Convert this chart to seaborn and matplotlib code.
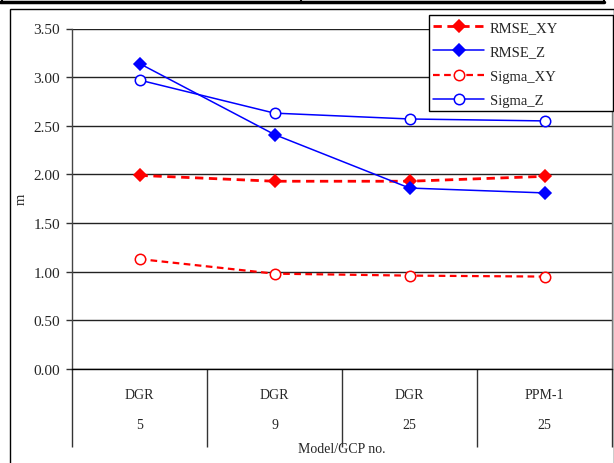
import seaborn as sns
import matplotlib.pyplot as plt
import pandas as pd
import numpy as np
from matplotlib.patches import Rectangle
from matplotlib.lines import Line2D

# values
models = ['DGR', 'DGR', 'DGR', 'PPM-1']
gcp_no = ['5', '9', '25', '25']
rmse_xy = [1.99, 1.93, 1.93, 1.98]
rmse_z = [3.14, 2.41, 1.86, 1.81]
sigma_xy = [1.13, 0.98, 0.96, 0.95]
sigma_z = [2.97, 2.63, 2.57, 2.55]
series = ['RMSE_XY', 'RMSE_Z', 'Sigma_XY', 'Sigma_Z']

df = pd.DataFrame({'pos': np.arange(len(models)),
                   'RMSE_XY': rmse_xy, 'RMSE_Z': rmse_z,
                   'Sigma_XY': sigma_xy, 'Sigma_Z': sigma_z})
long = df.melt(id_vars='pos', var_name='series', value_name='m')

sns.set_style('white')
plt.rcParams['font.family'] = ['Liberation Serif', 'DejaVu Serif']

W, H = 614, 464
fig = plt.figure(figsize=(W / 100, H / 100), dpi=100)
ax = fig.add_axes([72 / W, 1 - 370 / H, (612 - 72) / W, (370 - 29.5) / H])

palette = {'RMSE_XY': '#ff0000', 'RMSE_Z': '#0000ff', 'Sigma_XY': '#ff0000', 'Sigma_Z': '#0000ff'}
dashes = {'RMSE_XY': (3, 2), 'RMSE_Z': '', 'Sigma_XY': (3, 2), 'Sigma_Z': ''}
markers = {'RMSE_XY': 'D', 'RMSE_Z': 'D', 'Sigma_XY': 'o', 'Sigma_Z': 'o'}

sns.lineplot(data=long, x='pos', y='m', hue='series', style='series',
             hue_order=series, style_order=series, palette=palette,
             dashes=dashes, markers=markers, markersize=7, legend=False, ax=ax, zorder=3)

widths = {'RMSE_XY': 2.0, 'RMSE_Z': 1.1, 'Sigma_XY': 1.6, 'Sigma_Z': 1.1}
for line, name in zip(ax.lines, series):
    line.set_linewidth(widths[name])
    line.set_markeredgewidth(1.1)
    line.set_markeredgecolor(palette[name])
    if name.startswith('Sigma'):
        line.set_markerfacecolor('white')
        line.set_markersize(7.5)
    else:
        line.set_markersize(6.5)

ax.set_xlim(-0.5, 3.5)
ax.set_ylim(0, 3.5)
ax.set_yticks(np.arange(0, 3.51, 0.5))
ax.set_yticklabels([f'{v:.2f}' for v in np.arange(0, 3.51, 0.5)])
ax.yaxis.grid(True, color='#222222', linewidth=1)
ax.set_axisbelow(True)

ax.set_xticks(np.arange(len(models)))
ax.set_xticklabels([f'{m}\n\n{g}' for m, g in zip(models, gcp_no)], linespacing=1.2)
ax.set_xticks(np.arange(-0.5, 3.6, 1), minor=True)
ax.tick_params(axis='x', which='major', bottom=False, length=0, pad=14, labelsize=10)
ax.tick_params(axis='x', which='minor', bottom=True, length=56, width=1, color='#333333', direction='out')
ax.tick_params(axis='y', left=True, length=4, width=1, color='#333333', direction='out', pad=4.5, labelsize=11)

ax.spines['top'].set_visible(False)
ax.spines['left'].set_color('#444444')
ax.spines['right'].set_color('#777777')
ax.spines['bottom'].set_color('black')
for s in ax.spines.values():
    s.set_linewidth(1)

ax.set_xlabel('Model/GCP no.', fontsize=10)
ax.xaxis.set_label_coords(0.5, -(443 - 370) / 340.5)
ax.set_ylabel('m', fontsize=10.5)
ax.yaxis.set_label_coords(-(72 - 28) / 540, 0.5)

handles = []
for l, n in zip(ax.lines, series):
    h = Line2D([], [], color=l.get_color(), linewidth=l.get_linewidth(), marker=l.get_marker(),
               markersize=l.get_markersize(), markerfacecolor=l.get_markerfacecolor(),
               markeredgecolor=l.get_markeredgecolor(), markeredgewidth=1.1)
    if n.endswith('XY'):
        h.set_dashes((3, 2))
    handles.append(h)
leg = fig.legend(handles, series, loc='upper left', bbox_to_anchor=(429 / W, 1 - 17.5 / H),
                 fontsize=10.5, frameon=False,
                 handlelength=3.5, handletextpad=0.35, labelspacing=0.76,
                 borderpad=0.3, borderaxespad=0)
fig.add_artist(Rectangle((429 / W, 1 - 111.7 / H), (613 - 429) / W, (111.7 - 15.7) / H,
                         transform=fig.transFigure, facecolor='white', edgecolor='black',
                         linewidth=1, zorder=4))
leg.set_zorder(5)

# outer chart frame and the table edge above it
fig.add_artist(Rectangle((10 / W, -0.01), (613.5 - 10) / W, 1.01 - 10 / H,
                         transform=fig.transFigure, fill=False, edgecolor='black', linewidth=1))
fig.add_artist(Line2D([0, 604 / W], [1 - 2.5 / H] * 2, transform=fig.transFigure,
                      color='black', linewidth=2.5))
for xp in [2, 301, 604]:
    fig.add_artist(Line2D([xp / W] * 2, [1, 1 - 3 / H], transform=fig.transFigure,
                          color='black', linewidth=1.5))

fig.savefig('out.png', dpi=100)
